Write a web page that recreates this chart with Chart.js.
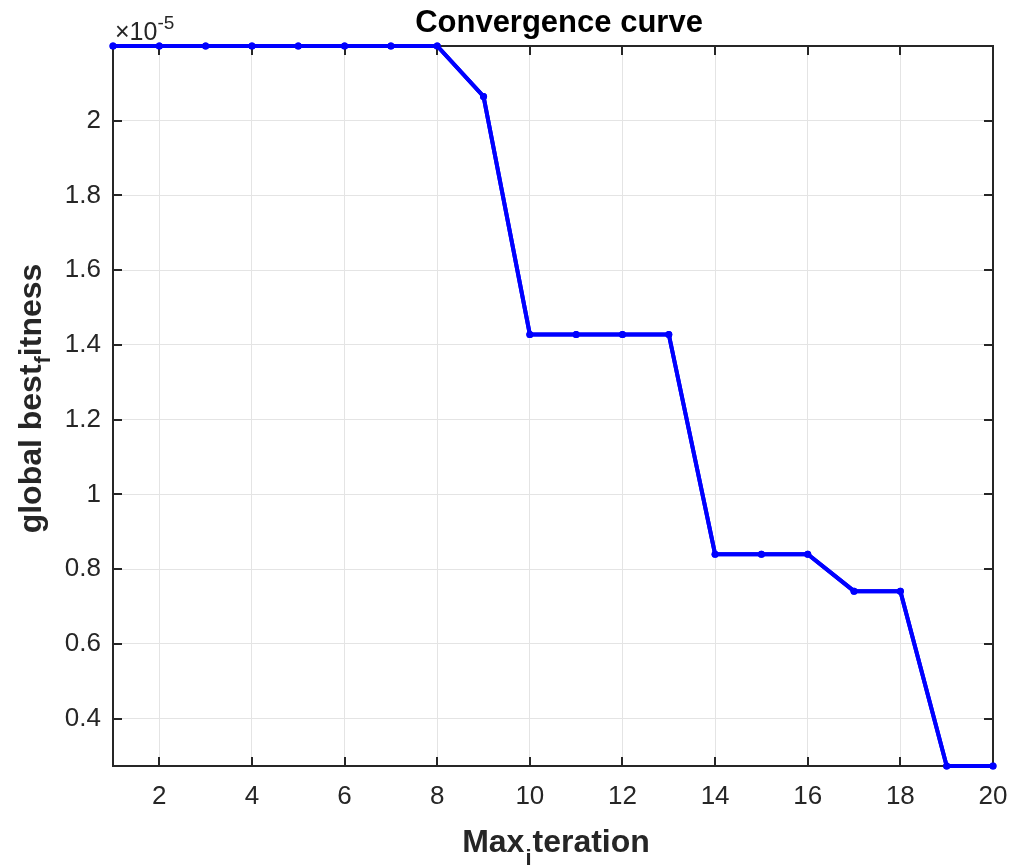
<!DOCTYPE html>
<html>
<head>
<meta charset="utf-8">
<script src="https://cdn.jsdelivr.net/npm/chart.js@4.4.1/dist/chart.umd.min.js"></script>
<style>
  html, body { margin: 0; padding: 0; background: #fff; }
  canvas { display: block; }
</style>
</head>
<body>
<canvas id="convChart" width="1010" height="867"></canvas>
<script>
// data (fitness in units of 1e-5)
const iterations = [1, 2, 3, 4, 5, 6, 7, 8, 9, 10, 11, 12, 13, 14, 15, 16, 17, 18, 19, 20];
const bestFitness = [2.2, 2.2, 2.2, 2.2, 2.2, 2.2, 2.2, 2.2, 2.065, 1.428, 1.428, 1.428, 1.428,
  0.840, 0.840, 0.840, 0.741, 0.741, 0.273, 0.273];
const scaleExp = 1e-5;
const xTicks = [2, 4, 6, 8, 10, 12, 14, 16, 18, 20];
const yTicks = [0.4, 0.6, 0.8, 1, 1.2, 1.4, 1.6, 1.8, 2];

const fontName = "'Liberation Sans', Arial, Helvetica, sans-serif";
const axisColor = "#262626";

const points = iterations.map((it, i) => ({ x: it, y: bestFitness[i] * scaleExp }));

// box, inner ticks, exponent, title and axis labels like the matlab figure
const matlabAxes = {
  id: "matlabAxes",
  afterDatasetsDraw(chart) {
    const ctx = chart.ctx;
    const area = chart.chartArea;
    const xs = chart.scales.x;
    const ys = chart.scales.y;
    const tl = 9;
    ctx.save();
    ctx.strokeStyle = axisColor;
    ctx.lineWidth = 2;
    ctx.beginPath();
    ctx.rect(area.left, area.top, area.right - area.left, area.bottom - area.top);
    ctx.stroke();
    ctx.beginPath();
    xTicks.forEach(v => {
      const px = Math.round(xs.getPixelForValue(v));
      ctx.moveTo(px, area.bottom); ctx.lineTo(px, area.bottom - tl);
      ctx.moveTo(px, area.top); ctx.lineTo(px, area.top + tl);
    });
    yTicks.forEach(v => {
      const py = Math.round(ys.getPixelForValue(v * scaleExp));
      ctx.moveTo(area.left, py); ctx.lineTo(area.left + tl, py);
      ctx.moveTo(area.right, py); ctx.lineTo(area.right - tl, py);
    });
    ctx.stroke();

    // redraw the data line over the box
    const meta = chart.getDatasetMeta(0);
    meta.dataset.draw(ctx, { left: 0, top: 0, right: chart.width, bottom: chart.height });
    meta.data.forEach(p => p.draw(ctx));

    ctx.fillStyle = axisColor;
    ctx.textBaseline = "alphabetic";
    // exponent
    ctx.textAlign = "left";
    ctx.font = "25px " + fontName;
    ctx.fillText("\u00d710", area.left + 2, 40);
    const w = ctx.measureText("\u00d710").width;
    ctx.font = "19px " + fontName;
    ctx.fillText("-5", area.left + 2 + w, 29);

    // title
    ctx.fillStyle = "#000";
    ctx.textAlign = "center";
    ctx.font = "bold 31px " + fontName;
    ctx.fillText("Convergence curve", (area.left + area.right) / 2 + 6, 32);

    // x label with subscript
    ctx.fillStyle = axisColor;
    let big = "bold 32px " + fontName;
    let small = "bold 22px " + fontName;
    ctx.font = big;
    const a = "Max", c = "teration";
    const wa = ctx.measureText(a).width, wc = ctx.measureText(c).width;
    ctx.font = small;
    const wb = ctx.measureText("i").width;
    let x0 = (area.left + area.right) / 2 - (wa + wb + wc) / 2 + 2;
    const yb = 852;
    ctx.textAlign = "left";
    ctx.font = big; ctx.fillText(a, x0, yb);
    ctx.font = small; ctx.fillText("i", x0 + wa + 1, yb + 13);
    ctx.font = big; ctx.fillText(c, x0 + wa + wb + 2, yb);

    // y label with subscript (rotated)
    big = "bold 32px " + fontName;
    small = "bold 22px " + fontName;
    ctx.translate(41, 399);
    ctx.rotate(-Math.PI / 2);
    ctx.font = big;
    const ya = "global best", yc = "itness";
    const wya = ctx.measureText(ya).width, wyc = ctx.measureText(yc).width;
    ctx.font = small;
    const wyb = ctx.measureText("f").width;
    x0 = -(wya + wyb + wyc) / 2;
    ctx.font = big; ctx.fillText(ya, x0, 0);
    ctx.font = small; ctx.fillText("f", x0 + wya + 1, 9);
    ctx.font = big; ctx.fillText(yc, x0 + wya + wyb + 1, 0);
    ctx.restore();
  }
};

new Chart(document.getElementById("convChart").getContext("2d"), {
  type: "line",
  data: {
    datasets: [{
      data: points,
      borderColor: "#0000ff",
      backgroundColor: "#0000ff",
      borderWidth: 4,
      pointRadius: 3.5,
      pointHoverRadius: 3.5,
      pointBorderWidth: 0,
      tension: 0,
      clip: false
    }]
  },
  options: {
    responsive: false,
    animation: false,
    events: [],
    layout: { padding: { left: 0, top: 46, right: 17, bottom: 0 } },
    plugins: { legend: { display: false }, title: { display: false }, tooltip: { enabled: false } },
    scales: {
      x: {
        type: "linear",
        min: iterations[0],
        max: iterations[iterations.length - 1],
        afterBuildTicks: s => { s.ticks = xTicks.map(v => ({ value: v })); },
        afterFit: s => { s.height = 101; s.paddingRight = 0; s.paddingLeft = 0; },
        grid: { color: "#e4e4e4", lineWidth: 1, drawTicks: false },
        border: { display: false },
        ticks: { color: axisColor, font: { family: fontName, size: 26 }, padding: 15, maxRotation: 0 }
      },
      y: {
        type: "linear",
        min: Math.min(...bestFitness) * scaleExp,
        max: Math.max(...bestFitness) * scaleExp,
        afterBuildTicks: s => { s.ticks = yTicks.map(v => ({ value: v * scaleExp })); },
        afterFit: s => { s.width = 113; s.paddingTop = 0; s.paddingBottom = 0; },
        grid: { color: "#e4e4e4", lineWidth: 1, drawTicks: false },
        border: { display: false },
        ticks: {
          color: axisColor,
          font: { family: fontName, size: 26 },
          padding: 12,
          callback: v => String(+(v / scaleExp).toFixed(1))
        }
      }
    }
  },
  plugins: [matlabAxes]
});
</script>
</body>
</html>
